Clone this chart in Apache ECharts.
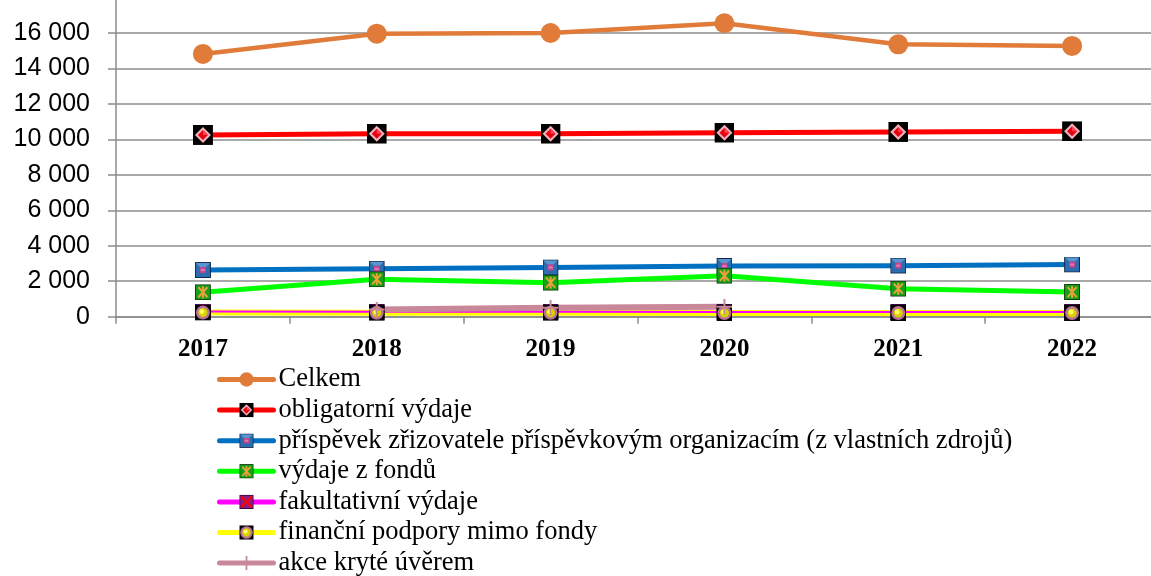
<!DOCTYPE html>
<html>
<head>
<meta charset="utf-8">
<script src="https://cdn.jsdelivr.net/npm/echarts@6/dist/echarts.min.js"></script>
<style>
    html, body { margin: 0; padding: 0; background: #fff; }
    #id-div-chart { width: 1151px; height: 576px; }
</style>
</head>
<body>
<div id="id-div-chart"></div>
<script>
var years = ['2017', '2018', '2019', '2020', '2021', '2022']
var celkem = [14820, 15960, 16000, 16550, 15360, 15270]
var obligatorni = [10250, 10320, 10320, 10380, 10420, 10460]
var prispevek = [2630, 2700, 2780, 2860, 2880, 2940]
var vydajeFondy = [1380, 2110, 1920, 2310, 1580, 1390]
var fakultativni = [290, 280, 280, 270, 270, 270]
var financni = [230, 220, 220, 210, 210, 210]
var akce = [null, 400, 510, 560, null, null]
var yTicks = [0, 2000, 4000, 6000, 8000, 10000, 12000, 14000, 16000, 18000]

var log = console.log.bind(console)

var e = (selector) => document.querySelector(selector)

// 标记图标用 svg 画，颜色比较多
var svgIcon = function(size, body) {
    var s = '<svg xmlns="http://www.w3.org/2000/svg" width="' + size + '" height="' + size +
        '" viewBox="0 0 ' + size + ' ' + size + '">' + body + '</svg>'
    return 'image://data:image/svg+xml;charset=utf-8,' + encodeURIComponent(s)
}

var icons = {
    obligatorni: svgIcon(20,
        '<rect x="0" y="0" width="20" height="20" fill="#000"/>' +
        '<polygon points="10,2 18,10 10,18 2,10" fill="#f2b2bb"/>' +
        '<polygon points="10,5 15,10 10,15 5,10" fill="#e8000e"/>' +
        '<polygon points="10,5 15,10 10,10" fill="#ff4050"/>'),
    prispevek: svgIcon(16,
        '<rect x="0" y="0" width="16" height="16" fill="#10284a"/>' +
        '<rect x="1" y="1" width="14" height="14" fill="#2c6db0"/>' +
        '<polygon points="1,1 15,1 11,5 5,5" fill="#5a95d0"/>' +
        '<rect x="5" y="5" width="6" height="6" fill="#c2468e"/>' +
        '<rect x="6" y="7" width="4" height="2" fill="#e27ab8"/>'),
    vydajeFondy: svgIcon(16,
        '<rect x="0" y="0" width="16" height="16" fill="#0b3d0b"/>' +
        '<rect x="1" y="1" width="14" height="14" fill="#17a017"/>' +
        '<path d="M3.5,3 L12.5,13 M12.5,3 L3.5,13 M8,2 L8,14" stroke="#e8a23a" stroke-width="2"/>'),
    fakultativni: svgIcon(16,
        '<rect x="0" y="0" width="16" height="16" fill="#300030"/>' +
        '<rect x="1" y="1" width="14" height="14" fill="#8a1a8a"/>' +
        '<path d="M2,2 L14,14 M14,2 L2,14" stroke="#ff0000" stroke-width="2.5"/>'),
    financni: svgIcon(16,
        '<rect x="0" y="0" width="16" height="16" fill="#000"/>' +
        '<circle cx="8" cy="8" r="7" fill="#b8709a"/>' +
        '<circle cx="8" cy="8" r="4.6" fill="#d8d000"/>' +
        '<circle cx="7" cy="7" r="2.4" fill="#ffff60"/>'),
    akce: svgIcon(16,
        '<path d="M8,0 L8,16 M0,8 L16,8" stroke="#c9879a" stroke-width="2"/>'),
}

var configuredChart = function() {
    var element = e('#id-div-chart')
    var chart = echarts.init(element, null, { renderer: 'canvas' })
    return chart
}

// Excel 先画所有线, 再画所有标记, 所以每个系列拆成两层
// 标记层放前面, 图例用它当代表
var markerSeries = function(name, data, color, symbol, size, z) {
    return {
        name: name,
        type: 'line',
        data: data,
        z: z,
        symbol: symbol,
        symbolSize: size,
        symbolKeepAspect: true,
        showAllSymbol: true,
        connectNulls: false,
        itemStyle: { color: color },
        lineStyle: { color: color, width: 0 },
        emphasis: { disabled: true },
        animation: false,
    }
}

var lineSeries = function(name, data, color, width, z) {
    return {
        name: name,
        type: 'line',
        data: data,
        z: z,
        symbol: 'none',
        connectNulls: false,
        itemStyle: { color: color },
        lineStyle: { color: color, width: width, cap: 'round', join: 'round' },
        emphasis: { disabled: true },
        animation: false,
    }
}

var formatNumber = function(v) {
    return String(v).replace(/\B(?=(\d{3})+(?!\d))/g, ' ')
}

var names = [
    'Celkem',
    'obligatorní výdaje',
    'příspěvek zřizovatele příspěvkovým organizacím (z vlastních zdrojů)',
    'výdaje z fondů',
    'fakultativní výdaje',
    'finanční podpory mimo fondy',
    'akce kryté úvěrem',
]

var chartOption = function() {
    var option = {
        backgroundColor: '#fff',
        animation: false,
        grid: {
            left: 116,
            right: -8,
            top: -2.5,
            bottom: 259.3,
            outerBoundsMode: 'none',
        },
        legend: {
            orient: 'vertical',
            left: 217,
            top: 366,
            height: 240,
            padding: 0,
            itemWidth: 54,
            itemHeight: 18,
            itemGap: 3.6,
            lineStyle: { width: 5, cap: 'round' },
            textStyle: {
                fontFamily: 'Liberation Serif',
                fontSize: 26.5,
                lineHeight: 25,
                color: '#000',
            },
            data: names,
        },
        xAxis: {
            type: 'category',
            data: years,
            boundaryGap: true,
            axisLine: { lineStyle: { color: '#8c8c8c', width: 1.5 } },
            axisTick: { show: true, length: 7, lineStyle: { color: '#8c8c8c', width: 1.5 } },
            axisLabel: {
                margin: 20,
                fontFamily: 'Liberation Serif',
                fontWeight: 'bold',
                fontSize: 25,
                color: '#000',
            },
            splitLine: { show: false },
        },
        yAxis: {
            type: 'value',
            min: yTicks[0],
            max: yTicks[yTicks.length - 1],
            interval: yTicks[1] - yTicks[0],
            axisLine: { show: true, lineStyle: { color: '#8c8c8c', width: 1.5 } },
            axisTick: { show: true, length: 8, lineStyle: { color: '#8c8c8c', width: 1.5 } },
            axisLabel: {
                margin: 26,
                fontFamily: 'Liberation Sans',
                fontSize: 25,
                color: '#000',
                showMaxLabel: false,
                formatter: formatNumber,
            },
            splitLine: { show: true, lineStyle: { color: '#8c8c8c', width: 1.5 } },
        },
        series: [
            markerSeries(names[0], celkem, '#e07b39', 'circle', 20, 20),
            markerSeries(names[1], obligatorni, '#ff0000', icons.obligatorni, 20, 21),
            markerSeries(names[2], prispevek, '#0070c0', icons.prispevek, 16, 22),
            markerSeries(names[3], vydajeFondy, '#00ff00', icons.vydajeFondy, 16, 23),
            markerSeries(names[4], fakultativni, '#ff00ff', icons.fakultativni, 16, 24),
            markerSeries(names[5], financni, '#ffff00', icons.financni, 16, 25),
            markerSeries(names[6], akce, '#c9879a', icons.akce, 16, 26),
            lineSeries(names[0], celkem, '#e07b39', 4.5, 10),
            lineSeries(names[1], obligatorni, '#ff0000', 5, 11),
            lineSeries(names[2], prispevek, '#0070c0', 5, 12),
            lineSeries(names[3], vydajeFondy, '#00ff00', 5, 13),
            lineSeries(names[5], financni, '#ffff00', 6, 14),
            lineSeries(names[4], fakultativni, '#ff00ff', 2, 15),
            lineSeries(names[6], akce, '#c9879a', 6, 16),
        ],
    }
    return option
}

var __main = function() {
    var chart = configuredChart()
    chart.setOption(chartOption())
}

__main()
</script>
</body>
</html>
